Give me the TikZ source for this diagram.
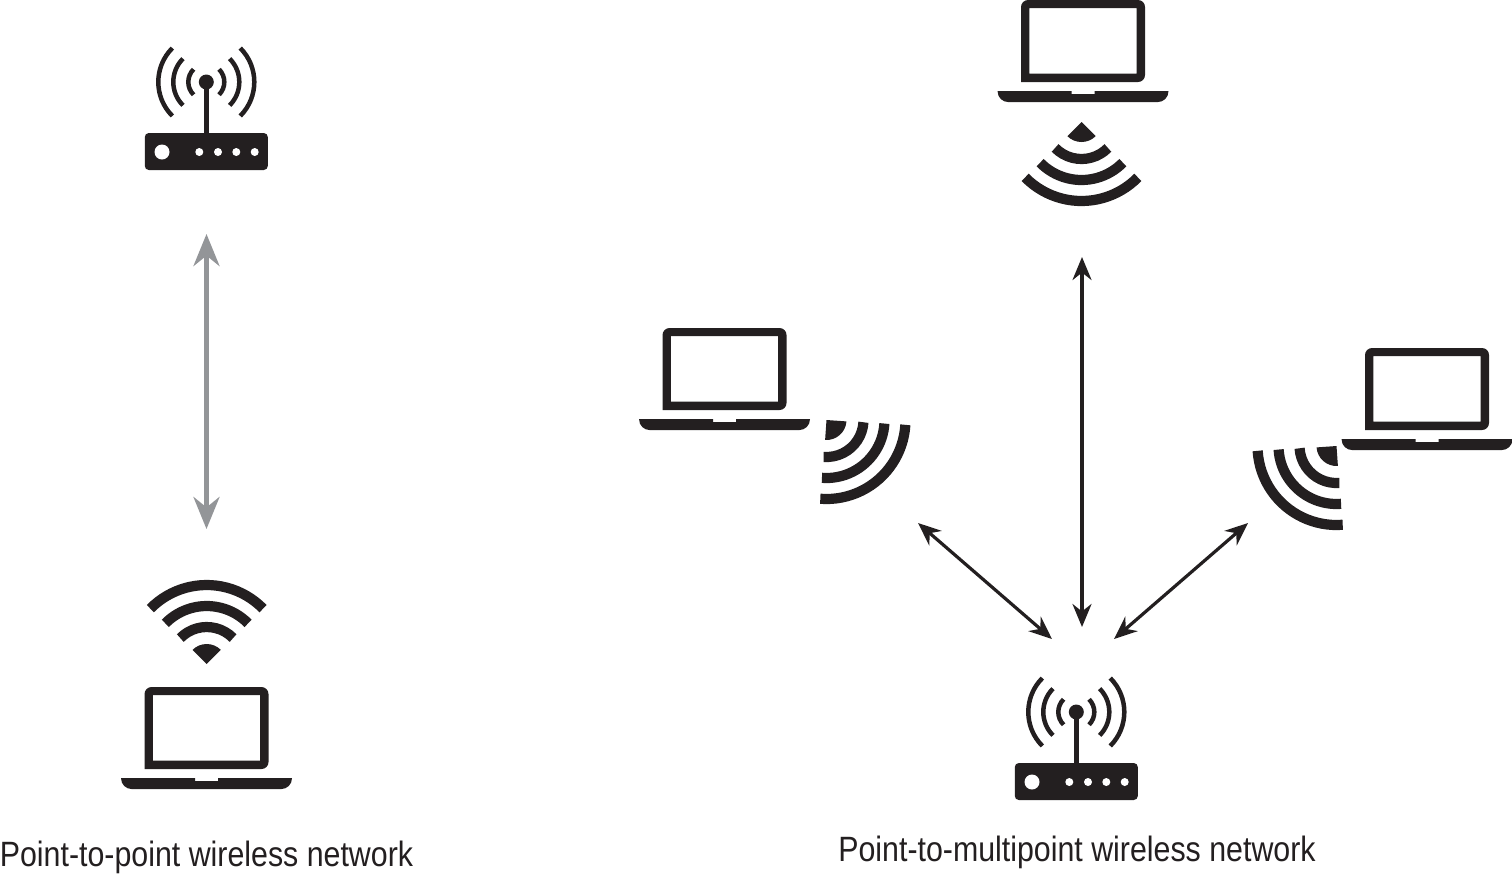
\documentclass[tikz,border=0pt]{standalone}
\usepackage{fontspec}
\usetikzlibrary{arrows.meta}
\newfontfamily\captionfont[FakeStretch=0.863]{Liberation Sans}
\definecolor{iconblack}{HTML}{231F20}
\definecolor{arrowgray}{HTML}{939598}
\tikzset{
	px/.style={x=0.01cm,y=-0.01cm},
	% laptop: origin at the middle of the bottom edge of the base
	laptop/.pic={
		\fill[iconblack,even odd rule] (-62,-20) [rounded corners=0.07cm]--(-62,-102)--(62,-102)--(62,-20) [sharp corners]--cycle
			(-53.7,-28.3) rectangle (53.7,-94);
		\fill[iconblack] (-85.5,-11)--(-11.5,-11)--(-11.5,-8)--(11.5,-8)--(11.5,-11)--(85.5,-11)
			.. controls (85.5,-4) and (80,0) .. (75,0)--(-75,0) .. controls (-80,0) and (-85.5,-4) .. (-85.5,-11)--cycle;
	},
	% wifi fan: origin at the tip, #1 turns it
	wifi/.pic={
		\begin{scope}[rotate=#1]
			\fill[iconblack] (0,0)--(135:20) arc[start angle=135,end angle=225,radius=20]--cycle;
			\foreach \r in {37,58,79}
				\draw[iconblack,line width=0.102cm] (134.5:\r) arc[start angle=134.5,end angle=225.5,radius=\r];
		\end{scope}
	},
	% router: origin at the middle of the bottom edge of the box
	router/.pic={
		\fill[iconblack,rounded corners=0.04cm] (-61.5,0) rectangle (61.5,-37);
		\fill[white] (-44.3,-18) circle[radius=7.5];
		\foreach \x in {-7,11.7,30,48.4}
			\fill[white] (\x,-18) circle[radius=4];
		\draw[iconblack,line width=0.045cm] (0,-37)--(0,-88);
		\fill[iconblack] (0,-88) circle[radius=7.5];
		\foreach \r in {18,33,48} {
			\draw[iconblack,line width=0.045cm] (0,-88)+(45:\r) arc[start angle=45,end angle=-45,radius=\r];
			\draw[iconblack,line width=0.045cm] (0,-88)+(135:\r) arc[start angle=135,end angle=225,radius=\r];
		}
	},
	caption/.style={font=\captionfont\fontsize{10}{12}\selectfont,text=iconblack,inner sep=0pt,anchor=base},
	link/.style={iconblack,line width=0.032cm,{Stealth[length=0.23cm,width=0.19cm]}-{Stealth[length=0.23cm,width=0.19cm]}},
	linkgray/.style={arrowgray,line width=0.047cm,{Stealth[length=0.32cm,width=0.26cm]}-{Stealth[length=0.32cm,width=0.26cm]}}
}
\begin{document}
\begin{tikzpicture}[px]
	\useasboundingbox (0,0) rectangle (1512,875);

	%point-to-point
	\pic at (206.3,170) {router};
	\pic at (206.7,664) {wifi=-90};
	\pic at (206.5,789) {laptop};
	\coordinate (a1) at (206.5,234);
	\coordinate (a2) at (206.5,529);
	\draw[linkgray] (a1)--(a2);
	\node[caption] (capa) at (206.5,866) {Point-to-point wireless network};

	%point-to-multipoint
	\pic at (1083,102) {laptop};
	\pic at (1081.5,122) {wifi=90};
	\pic at (724.5,430) {laptop};
	\pic at (826.5,420) {wifi=131};
	\pic at (1427,450) {laptop};
	\pic at (1336.5,446) {wifi=49};
	\pic at (1076.3,800) {router};
	\coordinate (b1) at (1082,257);
	\coordinate (b2) at (1082,627);
	\coordinate (c1) at (918,523);
	\coordinate (c2) at (1052,639);
	\coordinate (d1) at (1248,523);
	\coordinate (d2) at (1114,639);
	\draw[link] (b1)--(b2);
	\draw[link] (c1)--(c2);
	\draw[link] (d1)--(d2);
	\node[caption] (capb) at (1077,861) {Point-to-multipoint wireless network};
\end{tikzpicture}
\end{document}
